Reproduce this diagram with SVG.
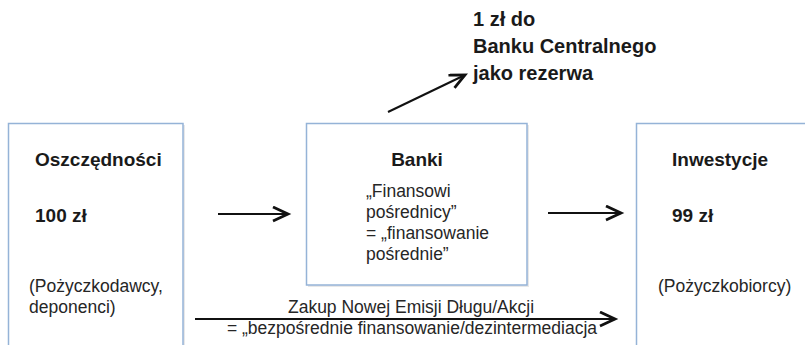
<svg xmlns="http://www.w3.org/2000/svg" width="805" height="345" viewBox="0 0 805 345">
<style>
.box{fill:#ffffff;stroke:#95b3d7;stroke-width:1.5}
.shadow{fill:#d9d9d9;opacity:0.6}
.b{font-family:"Liberation Sans",Arial,sans-serif;font-weight:bold;font-size:19px;fill:#1a1a1a}
.t{font-size:20px}
.r{font-family:"Liberation Sans",Arial,sans-serif;font-size:17.5px;fill:#262626}
.conn line{stroke:#111;stroke-width:2;fill:none;marker-end:url(#arr)}
</style>
<defs>
<marker id="arr" markerUnits="userSpaceOnUse" markerWidth="20" markerHeight="20" refX="16" refY="8" orient="auto" viewBox="0 0 20 20">
<path d="M1,1 L16,8 L1,15" fill="none" stroke="#111" stroke-width="2.8" stroke-linejoin="miter"/>
</marker>
</defs>
<rect width="805" height="345" fill="#ffffff"/>
<g id="oszczednosci">
<rect class="shadow" x="10" y="125" width="175" height="230"/>
<rect class="box" x="8.5" y="123.5" width="174.5" height="230"/>
<text class="b" x="35" y="166">Oszczędności</text>
<text class="b" x="35" y="222">100 zł</text>
<text class="r" x="29" y="292">(Pożyczkodawcy,</text>
<text class="r" x="29" y="313">deponenci)</text>
</g>
<g id="banki">
<rect class="shadow" x="308" y="125" width="221" height="162"/>
<rect class="box" x="306.5" y="123.5" width="220.5" height="161.5"/>
<text class="b" x="417" y="166" text-anchor="middle">Banki</text>
<text class="r" x="366" y="197">„Finansowi</text>
<text class="r" x="366" y="218">pośrednicy”</text>
<text class="r" x="366" y="239">= „finansowanie</text>
<text class="r" x="366" y="260">pośrednie”</text>
</g>
<g id="inwestycje">
<rect class="shadow" x="638" y="125" width="180" height="230"/>
<rect class="box" x="636.5" y="123.5" width="180" height="230"/>
<text class="b" x="672" y="166">Inwestycje</text>
<text class="b" x="672" y="222">99 zł</text>
<text class="r" x="658" y="292">(Pożyczkobiorcy)</text>
</g>
<g id="rezerwa">
<text class="b t" x="473" y="26">1 zł do</text>
<text class="b t" x="473" y="53">Banku Centralnego</text>
<text class="b t" x="473" y="80">jako rezerwa</text>
</g>
<g id="bezposrednie">
<text class="r" x="411" y="313" text-anchor="middle">Zakup Nowej Emisji Długu/Akcji</text>
<text class="r" x="412" y="334" text-anchor="middle">= „bezpośrednie finansowanie/dezintermediacja</text>
</g>
<g id="connectors" class="conn">
<line x1="218" y1="214" x2="288" y2="214"/>
<line x1="548" y1="213" x2="621" y2="213"/>
<line x1="388" y1="112" x2="465" y2="75"/>
<line x1="195" y1="319" x2="615" y2="319"/>
</g>
</svg>
